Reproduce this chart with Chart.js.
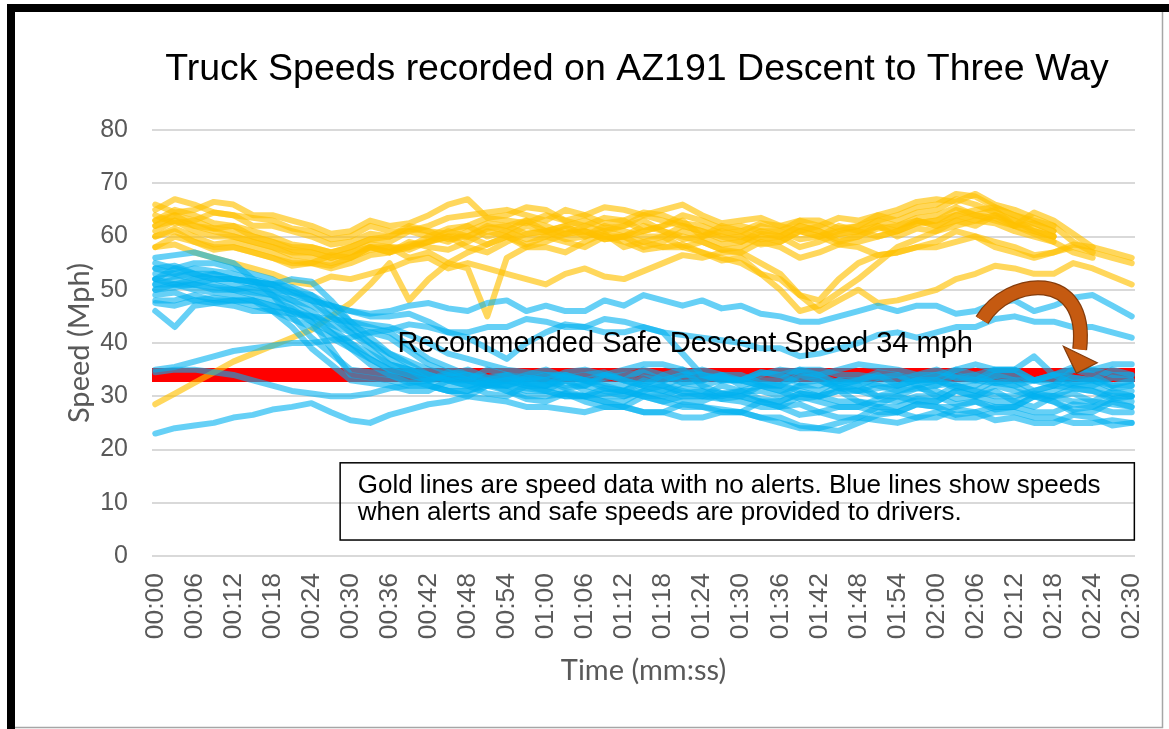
<!DOCTYPE html>
<html><head><meta charset="utf-8">
<script src="https://cdn.jsdelivr.net/npm/chart.js@4.4.1/dist/chart.umd.min.js"></script>
<style>html,body{margin:0;padding:0;background:#fff;overflow:hidden}#wrap{position:absolute;left:0;top:0;width:1169px;height:729px}</style>
</head><body><div id="wrap"><canvas id="c" width="1169" height="729"></canvas></div>
<script>
// ---- categories / ticks ----
const TICK_LABELS = ['00:00','00:06','00:12','00:18','00:24','00:30','00:36','00:42','00:48','00:54','01:00','01:06','01:12','01:18','01:24','01:30','01:36','01:42','01:48','01:54','02:00','02:06','02:12','02:18','02:24','02:30'];
const TICK_SECONDS = [0,6,12,18,24,30,36,42,48,54,60,66,72,78,84,90,96,102,108,114,120,126,132,138,144,150];
const TIME_SECONDS = [0,3,6,9,12,15,18,21,24,27,30,33,36,39,42,45,48,51,54,57,60,63,66,69,72,75,78,81,84,87,90,93,96,99,102,105,108,111,114,117,120,123,126,129,132,135,138,141,144,147,150];
const Y_TICKS = [0,10,20,30,40,50,60,70,80];
const SAFE_SPEED = 34;

// ---- gold series (no alerts), mph ----
const GOLD_1  = [66,64.5,65,66.5,66,64,64,63,62,60.5,61,63,62,62.5,64,66,67,63.5,64,65.5,65,63,64,65.5,65,64,65,66,64,62.5,63,63.5,62,61,62,63.5,63,64,65,66.5,67,66.5,68,66,65,63.5,62,null,null,null,null];
const GOLD_2  = [65,67,66,64.5,64,63.5,63,61.5,61,59.5,60,62,61,61,62,63.5,64,64.5,65,64,63,65,64,62.5,63,64.5,64,62.5,62,60.5,61,62.5,62,63,63,61.5,62,63,64,65.5,66,68,67.5,65.5,64,62.5,61,null,null,null,null];
const GOLD_3  = [64,62.5,63,64.5,64,62,62,61,60,58.5,59,60.5,60,61.5,61,60.5,62,63.5,63,62.5,64,63,62,63.5,63,61,62,64,63,61.5,62,61,61,59.5,60,61,62,64,63,64.5,65,67,66,64.5,63,61,60,null,null,null,null];
const GOLD_4  = [63,65,64,62.5,62,61,60,58.5,58,57,58,59.5,59,61,60,59,61,62.5,62,60.5,61,62,63,61.5,62,64,63,62,61,59.5,60,62,61,63,62,60.5,61,63,62,63.5,64,65.5,64,63,62,64.5,63,60.5,58,null,null];
const GOLD_5  = [62,64,63,61.5,62,60,59,57.5,57,56,57,58.5,58,58,60,61.5,62,60,61,63,62,60.5,61,60,60,62,61,59.5,60,61,60,58.5,59,61,60,62,61,60,61,62.5,63,64,65,65.5,64,63,62,59,57,null,null];
const GOLD_6  = [61,63,62,61,60,59,58,56.5,56,55,56,58,57,58.5,59,61,60,58.5,60,62,61,59.5,60,62,61,60,60,62,61,60,59,60.5,60,62,61,59.5,60,61.5,62,63,62,64,63,62.5,61,60,59,null,null,null,null];
const GOLD_7  = [60,61.5,60,58.5,59,58,57,55.5,55,54,55,56.5,57,59,58,57.5,59,61,60,58.5,60,61.5,61,59.5,60,61,62,63,60,58.5,59,61,60,58,59,60.5,61,62,60,61.5,61,63,62,64,63,61.5,60,null,null,null,null];
const GOLD_8  = [58,60,59,57.5,58,57,56,54.5,55,56.5,56,58,57,58,59,60,58,57,59,60.5,61,62,60,61,62,63,61,60,59,57.5,58,60,59,61,60,58.5,59,60,61,63,62,63,64,65,62,62.5,61,null,null,null,null];
const GOLD_9  = [28.5,30.5,32.5,34.5,36.5,38,39.5,41,42.5,45,47.5,51,55,48,52,55,57,58.5,60,58,59,60.5,61,59.5,60,58,59,61,60,62,61,59.5,60,62,61,59,60,62,61,62.5,63,65,64,63.5,62,61,60,null,null,null,null];
const GOLD_10 = [60,61,59,58,58,57,56,55,55,54.5,56,57.5,58,56,57,55,54,45,56,58,58,57,59,60.5,58,59,60,58,59,57.5,57,59,58,56,57,58.5,58,56.5,57,58,59,61,60,59,58,56.5,57,58,57,56,55];
const GOLD_11 = [58,58.5,57,56,55,54,53,51.5,51,52.5,52,53,54,55.5,56,54,55,54,53,52,51,53,54,52.5,52,53.5,55,56.5,56,57,57,55,53,49,46,48,50,47.5,48,49,50,52,53,54.5,54,53,53,55,54,52.5,51];
const GOLD_12 = [62,63,61,60,60,59,58,57,57,56,57,58,58,57.5,59,60,60,62,61,59.5,60,59,58,60,59,57.5,58,58,57,56,55,53,52,49,48,52,55,56.5,57,58,58,59,60,58,57,56,57,58.5,58,57,56];
const GOLD_13 = [63,64,62,61.5,61,60,59,58,58,57,58,59.5,60,62,61,59.5,60,61.5,62,63,61,60.5,62,61,60,59,58,58.5,57,55.5,56,53,50,46,47,49.5,52,55,58,59.5,61,62,63,64,62,60.5,59,57,56,null,null];

// ---- blue series (alerts + safe speeds), mph ----
const BLUE_1  = [56,56.5,57,56,55,52,49,45,41,38,35,34.5,34,32.5,33,34,35,33.5,34,32.5,32,34,33,31.5,31,33,32,33.5,33,34,34,32.5,32,34,33,31.5,31,32.5,32,33,34,33.5,33,35,35,33,34,32.5,33,35,34];
const BLUE_2  = [52,54,53,52,52,51.5,51,49,48,47,46,45.5,46,47,47.5,46.5,46,47.5,48,46,47,46,46,48,47,49,48,47,48,46.5,47,45.5,45,44,44,45,46,47,46,47,47,45.5,46,47.5,48,46,47,48.5,49,47,45];
const BLUE_3  = [35,35.5,36.5,37.5,38.5,39,39.5,40,40,40.5,41,42,42.5,43.5,43,42,42,43,43,44.5,44,43,43,44.5,44,43,42,41.5,41,40.5,40,39,39,37.5,38,39,40,41.5,42,41,42,43,43,44.5,45,44,44,43,43,42,41];
const BLUE_4  = [54,53,54,53.5,53,52,51,49.5,48,47,46,45,45,45.5,44,42,41,39,37,40,42,43.5,43,42,42,43,42,38,34,33.5,33,32,32,33.5,34,32,33,32,31,31.5,32,34,33,32.5,32,33,34,33.5,33,31.5,32];
const BLUE_5  = [55,54,55,55,54,53,52,50,48,45,42,39,36,35,34,33,33,32,32,31.5,31,33,32,31,30,31.5,31,30,30,32,31,29.5,29,30.5,30,32,31,30,30,29,29,31,30,32,31,30,30,31.5,31,29.5,30];
const BLUE_6  = [54,54.5,53,53,52,51,50,48,46,43,40,37,35,34,33,34.5,34,32.5,33,34,35,33.5,34,34.5,33,32,34,35,32,33,33,34.5,34,32.5,33,31.5,32,33.5,34,32,33,35,34,32.5,33,33,32,35,34,32,33];
const BLUE_7  = [53,53,52,53,52,51.5,51,50.5,49,47,44,41,38,36,34,33,32,32.5,31,30,30,30.5,29,28,28,30,29,28,28,27.5,27,29,28,26.5,27,26,26,28,27,28.5,28,26.5,27,28,28,30,29,27,27,29,28];
const BLUE_8  = [52,52.5,53,52,51,50,49,47,45,42,39,36,34,33,32,31,31,32.5,33,32,32,33,31,30,30,31,32,30.5,31,29.5,30,32,31,29.5,30,31,29,28.5,30,31.5,31,29.5,30,31,29,28,30,30.5,29,31,30];
const BLUE_9  = [51,51,52,51,50,49,48,46.5,44,39,34,33.5,33,32,32,31,30,32,31,29.5,29,30.5,30,29,28,27,27,28.5,28,27,27,26,26,24.5,24,23.5,25,26.5,27,26,26,27.5,27,25.5,26,25,25,26.5,26,24.5,25];
const BLUE_10 = [50,50.5,51,50.5,50,49.5,49,48,47,45,43,40,37,35,33,33.5,34,33,32,33.5,33,32,32,33.5,34,34.5,33,34,35,34,33,34.5,34,35,35,34,34,33.5,33,34,35,33.5,34,35,35,33,34,35.5,35,34,34];
const BLUE_11 = [50,51,50,49.5,49,48,46,43,39,36,33,32.5,32,31,31,33,32,30.5,30,32,31,30,30,29,29,31,30,29,29,30.5,30,29,28,30,29,28,28,29.5,29,30,30,28.5,29,28,28,30,29,27.5,28,29.5,29];
const BLUE_12 = [49,49.5,48,48.5,48,47,46,44.5,43,41,39,37,35,34,33,32,32,33,34,33.5,33,31.5,32,34,33,32,31,32.5,32,30.5,31,31,30,32,31,33,32,30,31,32,30,32,31,33,32,30,31,32.5,32,30.5,31];
const BLUE_13 = [48,48,49,48,48,48,47,46,45,43.5,42,40,38,36.5,35,34,33,35,34,33,33,34.5,35,34,33,35,34,32.5,33,34,32,33,33,35,34,32.5,33,34,32,33,33,31.5,32,34,33,31,32,33.5,33,32,32];
const BLUE_14 = [46,43,47,47.5,48,48,47,46,44,42,40,38,36,35,34,33,33,32.5,32,31,31,30,30,31.5,31,30,29,30,30,29.5,29,28,28,28.5,27,28,28,27,27,28.5,28,28,29,27.5,28,27,27,28.5,28,27,27];
const BLUE_15 = [23,24,24.5,25,26,26.5,27.5,28,28.7,27,25.5,25,26.5,27.5,28.5,29,30,29.5,29,28,28,27.5,27,28,28,27,27,26,26,27,27,26,25,24,24,25,26,25.5,25,26,27,26,26,27,27,26,26,25,25,25.5,25];
const BLUE_16 = [34.5,35,35,34.5,34,33,32,31,30.5,30,30,30.5,31.5,32,32,31,31,32,33,32.5,32,31,30,30.5,31,32.5,32,31,30,30,31,32,32,31,30,31,31,31.5,32,33,33,32,31,30,30,31,32,31.5,31,30,30];
const BLUE_17 = [52,51,51,52,52,51.5,51,52,51.5,48,44,43,42,39.5,37,35.5,34,33.5,33,32,32,33.5,33,32,31,30,30,31.5,31,30.5,30,29,29,30.5,30,29,29,28,28,29.5,29,31,30,29,29,30.5,30,29,29,28.5,28];
const BLUE_18 = [51,52,51,50,50,50.5,50,49.5,49,46,43,42,41,38.5,36,34.5,33,32,32,33,34,33.5,33,32.5,32,33.5,33,34,34,33,33,32,31,32,32,33,33,34.5,34,33,32,32.5,33,34,34,33,33,32,32,33.5,33];
const BLUE_19 = [47.5,47,48,47.5,47,46,46,45.5,45,44.5,44,43.5,43,41.5,40,38,37,36,35,34.5,34,34,33,34,35,36,36,35,34,33,33,34,35,34.5,34,35,36,35.5,35,34,34,35,36,35,35,37.5,34,35,35,36,36];

const GOLD_SERIES = [GOLD_1,GOLD_2,GOLD_3,GOLD_4,GOLD_5,GOLD_6,GOLD_7,GOLD_8,GOLD_9,GOLD_10,GOLD_11,GOLD_12,GOLD_13];
const BLUE_SERIES = [BLUE_1,BLUE_2,BLUE_3,BLUE_4,BLUE_5,BLUE_6,BLUE_7,BLUE_8,BLUE_9,BLUE_10,BLUE_11,BLUE_12,BLUE_13,BLUE_14,BLUE_15,BLUE_16,BLUE_17,BLUE_18,BLUE_19];

// ---- texts ----
const TITLE = 'Truck Speeds recorded on AZ191 Descent to Three Way';
const Y_TITLE = 'Speed (Mph)';
const X_TITLE = 'Time (mm:ss)';
const SAFE_LABEL = 'Recommended Safe Descent Speed 34 mph';
const NOTE_LINES = ['Gold lines are speed data with no alerts. Blue lines show speeds','when alerts and safe speeds are provided to drivers.'];

// axis range (half-step padding on both sides, as a category axis)
const X_MIN = -0.5, X_MAX = 150.5;

// annotation anchors in data units (seconds, mph)
const SAFE_LABEL_AT = {t: 37.2, v: 38.3};
const NOTE_BOX = {t0: 28.4, t1: 150.4, v0: 17.5, v1: 3.0};
const NOTE_TEXT_AT = {t: 31.1, v1: 11.8, v2: 6.7};
const ARROW = {tail:[127,44.3], c1:[131,52.5], c2:[143.5,54], end:[142,38.8], head:[[139.5,39.4],[144.7,36.3],[141.5,34.3]]};

const pts = arr => TIME_SECONDS.map((t,i)=>({x:t, y:(arr[i]===undefined?null:arr[i])}));
const datasets = [];
BLUE_SERIES.forEach((s,i)=>datasets.push({label:'Blue '+(i+1), data:pts(s), borderColor:'rgba(0,176,240,0.6)', borderWidth:6, pointRadius:0, order:1, borderJoinStyle:'round', borderCapStyle:'round'}));
GOLD_SERIES.forEach((s,i)=>datasets.push({label:'Gold '+(i+1), data:pts(s), borderColor:'rgba(255,192,0,0.64)', borderWidth:6, pointRadius:0, order:2, borderJoinStyle:'round', borderCapStyle:'round'}));
datasets.push({label:'Safe speed', data:[{x:X_MIN,y:SAFE_SPEED},{x:X_MAX,y:SAFE_SPEED}], borderColor:'#FF0000', borderWidth:14, pointRadius:0, order:3});

const decor = {
  id:'decor',
  beforeDraw(chart){
    const c = chart.ctx, W = chart.width, H = chart.height;
    c.save();
    c.fillStyle='#fff'; c.fillRect(0,0,W,H);
    c.fillStyle='#000';
    c.fillRect(7,4,W-7,8);
    c.fillRect(7,4,8,H-4);
    c.strokeStyle='#A6A6A6'; c.lineWidth=1.5;
    c.beginPath(); c.moveTo(1162.5,12); c.lineTo(1162.5,727.5); c.lineTo(15,727.5); c.stroke();
    c.fillStyle='#000'; c.font='37.5px "Liberation Sans", Arial, sans-serif';
    c.textAlign='center'; c.textBaseline='alphabetic';
    c.fillText(TITLE, 637, 80);
    c.restore();
  },
  afterDatasetsDraw(chart){
    const c = chart.ctx, xs = chart.scales.x, ys = chart.scales.y;
    const X = t=>xs.getPixelForValue(t), Y = v=>ys.getPixelForValue(v);
    c.save();
    // safe speed label
    c.fillStyle='#000'; c.font='29px "Liberation Sans", Arial, sans-serif';
    c.textAlign='left'; c.textBaseline='alphabetic';
    c.fillText(SAFE_LABEL, X(SAFE_LABEL_AT.t), Y(SAFE_LABEL_AT.v));
    // curved arrow
    const P = p=>[X(p[0]),Y(p[1])];
    const tl=P(ARROW.tail), a=P(ARROW.c1), b=P(ARROW.c2), e=P(ARROW.end);
    c.lineCap='butt';
    c.beginPath(); c.moveTo(tl[0],tl[1]); c.bezierCurveTo(a[0],a[1],b[0],b[1],e[0],e[1]);
    c.strokeStyle='#843C0C'; c.lineWidth=15; c.stroke();
    c.beginPath(); c.moveTo(tl[0],tl[1]); c.bezierCurveTo(a[0],a[1],b[0],b[1],e[0],e[1]);
    c.strokeStyle='#C55A11'; c.lineWidth=12.5; c.stroke();
    const h = ARROW.head.map(P);
    c.beginPath(); c.moveTo(h[0][0],h[0][1]); c.lineTo(h[1][0],h[1][1]); c.lineTo(h[2][0],h[2][1]); c.closePath();
    c.fillStyle='#C55A11'; c.fill(); c.strokeStyle='#843C0C'; c.lineWidth=1.2; c.stroke();
    // note box
    const bx0=X(NOTE_BOX.t0), bx1=X(NOTE_BOX.t1), by0=Y(NOTE_BOX.v0), by1=Y(NOTE_BOX.v1);
    c.strokeStyle='#000'; c.lineWidth=1.5;
    c.strokeRect(bx0, by0, bx1-bx0, by1-by0);
    c.fillStyle='#000'; c.font='26px "Liberation Sans", Arial, sans-serif';
    c.fillText(NOTE_LINES[0], X(NOTE_TEXT_AT.t), Y(NOTE_TEXT_AT.v1), 755);
    c.fillText(NOTE_LINES[1], X(NOTE_TEXT_AT.t), Y(NOTE_TEXT_AT.v2), 755);
    c.restore();
  }
};

new Chart(document.getElementById('c'), {
  type:'line',
  data:{datasets},
  plugins:[decor],
  options:{
    responsive:false, animation:false, devicePixelRatio:1,
    layout:{padding:{left:60, top:130, right:34, bottom:0}},
    plugins:{legend:{display:false}, tooltip:{enabled:false}, title:{display:false}},
    elements:{line:{tension:0}},
    scales:{
      x:{type:'linear', min:X_MIN, max:X_MAX,
        afterBuildTicks:s=>{s.ticks = TICK_SECONDS.map(v=>({value:v}));},
        afterFit:s=>{s.height = 173; s.paddingLeft = 0; s.paddingRight = 0;},
        grid:{display:false, drawTicks:false}, border:{display:false},
        ticks:{autoSkip:false, minRotation:90, maxRotation:90, padding:17, color:'#595959',
          font:{family:'"Liberation Sans", Arial, sans-serif', size:26.5},
          callback:(v)=>TICK_LABELS[TICK_SECONDS.indexOf(v)] ?? ''},
        title:{display:true, text:X_TITLE, color:'#595959', font:{family:'Lato, "Open Sans", sans-serif', size:29}, padding:{top:0,bottom:41}}
      },
      y:{min:0, max:80,
        afterBuildTicks:s=>{s.ticks = Y_TICKS.map(v=>({value:v}));},
        afterFit:s=>{s.width = 92;},
        grid:{color:'#D9D9D9', lineWidth:2, drawTicks:false}, border:{display:false},
        ticks:{padding:24, color:'#595959', font:{family:'"Liberation Sans", Arial, sans-serif', size:25}},
        title:{display:true, text:Y_TITLE, color:'#595959', font:{family:'Lato, "Open Sans", sans-serif', size:29}, padding:{top:2,bottom:0}}
      }
    }
  }
});
</script></body></html>
